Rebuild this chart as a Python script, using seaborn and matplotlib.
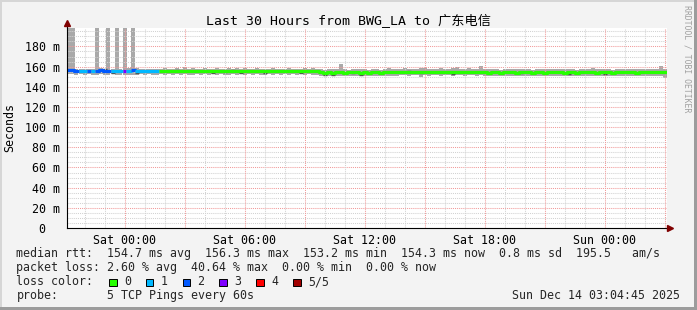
import numpy as np
import pandas as pd
import matplotlib
matplotlib.use("Agg")
import matplotlib.pyplot as plt
import seaborn as sns
from matplotlib.patches import Rectangle

sns.set_theme(style="white")
plt.rcParams["font.family"] = ["DejaVu Sans Mono", "Noto Sans CJK SC"]

# ---------------- data ----------------
start_hour = -2.921          # hours relative to Sat 00:00 (Fri 21:04:45)
bin_hours = 0.2              # consolidated step (12 min)

median_ms = [
    156.2, 156.3, 156.0, 155.6, 155.5, 156.0, 155.6, 156.1, 156.2, 156.0,
    156.1, 155.7, 155.8, 155.6, 155.9, 155.8, 156.2, 155.6, 155.5, 155.6,
    155.5, 155.6, 155.5,
    155.6, 155.4, 155.7, 155.5, 155.6, 155.3, 155.5, 155.7, 155.4, 155.5,
    155.6, 155.5, 155.3, 155.6, 155.5, 155.4, 155.6, 155.5, 155.7, 155.4,
    155.5, 155.6, 155.3, 155.5, 155.4, 155.6, 155.5, 155.3, 155.6, 155.5,
    155.4, 155.5, 155.7, 155.4, 155.5, 155.3, 155.6, 155.5, 155.4, 155.6,
    154.2, 154.0, 154.3, 154.1, 154.4, 154.2, 154.0, 154.3, 154.5, 154.2,
    154.1, 154.3, 154.0, 154.2, 154.4, 154.1, 154.3, 154.5, 154.2, 154.4,
    154.7, 154.9, 154.6, 154.8, 154.5, 154.9, 155.0, 154.7, 154.8, 154.6,
    154.9, 154.7, 154.8, 155.0, 154.6, 154.8, 154.7, 154.9, 154.6, 154.8, 154.7,
    154.3, 154.1, 154.4, 154.2, 154.0, 154.3, 154.5, 154.2, 154.1, 154.4,
    154.2, 154.3, 154.0, 154.2, 154.4, 154.1, 154.3, 154.2, 154.5, 154.3,
    154.1, 154.4, 154.2, 154.0, 154.3, 154.5, 154.2, 154.4, 154.1, 154.3,
    154.2, 154.4, 154.0, 154.3, 154.5, 154.2, 154.4, 154.3, 154.1, 154.4,
    154.2, 154.3, 154.5, 154.2, 154.4, 154.3,
]

smoke_hi_ms = [
    250, 250, 158.0, 157.5, 157.5, 158.0, 157.5, 250, 158.5, 158.0,
    250, 157.5, 250, 158.0, 250, 158.5, 250, 158.5, 158.0, 157.5,
    158.0, 157.5, 157.5,
    158.0, 158.5, 158.0, 158.0, 158.5, 158.0, 160.0, 158.0, 158.5, 158.0,
    158.0, 158.5, 158.0, 158.0, 158.5, 158.0, 158.0, 158.5, 158.0, 158.5,
    158.0, 158.5, 158.0, 158.0, 158.5, 158.0, 158.0, 158.0, 158.5, 158.0,
    158.0, 158.0, 158.5, 158.0, 158.0, 158.0, 158.5, 158.0, 158.5, 158.0,
    157.5, 157.0, 157.5, 157.5, 158.0, 162.5, 157.5, 157.0, 158.0, 157.5,
    157.5, 158.0, 157.0, 157.5, 157.5, 157.0, 157.5, 158.5, 157.5, 158.0,
    158.0, 158.5, 158.0, 158.0, 157.5, 158.5, 158.5, 158.0, 158.0, 158.0,
    158.5, 158.0, 158.0, 158.5, 160.0, 158.0, 158.0, 158.5, 158.0, 158.0, 160.5,
    157.5, 157.5, 158.0, 157.5, 157.0, 157.5, 158.0, 157.5, 157.5, 158.0,
    157.5, 157.5, 157.0, 157.5, 158.0, 157.5, 157.5, 157.5, 158.0, 157.5,
    157.5, 158.0, 157.5, 157.0, 157.5, 158.0, 157.5, 158.5, 157.5, 157.5,
    157.5, 158.0, 157.0, 157.5, 158.0, 157.5, 158.0, 157.5, 157.5, 158.0,
    157.5, 157.5, 158.0, 157.5, 160.5, 158.0,
]

smoke_lo_ms = [
    152.5, 152.5, 152.0, 152.5, 152.0, 152.5, 152.0, 152.0, 152.5, 152.0,
    152.0, 152.5, 152.0, 151.5, 152.0, 152.0, 151.5, 152.0, 152.5, 152.0,
    152.5, 152.0, 152.0,
    152.5, 152.0, 152.5, 152.0, 152.5, 152.0, 152.5, 152.0, 152.0, 152.5,
    152.0, 152.5, 152.0, 152.5, 152.0, 152.5, 152.0, 152.0, 152.5, 152.0,
    152.5, 152.0, 152.5, 152.0, 152.5, 152.0, 152.0, 152.5, 152.0, 152.5,
    152.0, 152.5, 152.0, 152.5, 152.0, 152.5, 152.0, 152.5, 152.0, 151.5,
    151.0, 150.5, 151.0, 151.0, 150.5, 151.0, 151.0, 150.5, 151.0, 151.0,
    150.5, 151.0, 151.0, 150.5, 151.0, 151.0, 150.5, 151.0, 151.0, 151.0,
    151.5, 151.5, 151.0, 151.5, 151.5, 149.5, 151.5, 151.0, 151.5, 151.5,
    151.0, 151.5, 151.5, 151.0, 151.5, 151.5, 151.0, 151.5, 151.5, 151.0, 151.5,
    151.0, 150.5, 151.0, 151.0, 150.5, 151.0, 151.0, 151.0, 150.5, 151.0,
    151.0, 150.5, 151.0, 151.0, 151.0, 150.5, 151.0, 151.0, 150.5, 151.0,
    151.0, 151.0, 150.5, 151.0, 151.0, 150.5, 151.0, 151.0, 151.0, 150.5,
    151.0, 151.0, 150.5, 151.0, 151.0, 151.0, 150.5, 151.0, 151.0, 150.5,
    151.0, 151.0, 150.5, 151.0, 151.0, 148.5,
]

loss_level = [2, 2, 2, 1, 1, 2, 1, 2, 2, 2, 2, 1, 1, 1, 3, 1, 2, 1, 1, 1, 1, 1, 1] + [0] * 127

# darker smoke layers (bin index, value in ms)
dark_bins = [9, 11, 17, 27, 36, 39, 41, 43, 49, 58, 62, 64, 66, 71, 73, 75, 85, 88, 96,
             105, 113, 125, 134, 143, 147]
dark_vals = [158.0, 154.0, 153.8, 156.4, 154.0, 154.7, 156.6, 154.0, 153.7, 154.0, 156.0,
             152.0, 151.7, 153.4, 152.0, 153.4, 155.4, 153.4, 152.7,
             153.4, 153.4, 152.7, 152.7, 154.7, 155.0]

loss_labels = ["0", "1", "2", "3", "4", "5/5"]
loss_colors = ["#26ff00", "#00b8ff", "#0059ff", "#7e00ff", "#ff0000", "#a10000"]

y_major = [0, 20, 40, 60, 80, 100, 120, 140, 160, 180]
y_labels = ["0  ", "20 m", "40 m", "60 m", "80 m", "100 m", "120 m", "140 m", "160 m", "180 m"]
x_major = [0, 6, 12, 18, 24]
x_labels = ["Sat 00:00", "Sat 06:00", "Sat 12:00", "Sat 18:00", "Sun 00:00"]

title = "Last 30 Hours from BWG_LA to 广东电信"
legend_lines = [
    "median rtt:  154.7 ms avg  156.3 ms max  153.2 ms min  154.3 ms now  0.8 ms sd  195.5   am/s",
    "packet loss: 2.60 % avg  40.64 % max  0.00 % min  0.00 % now",
]
probe_text = "5 TCP Pings every 60s"
stamp_text = "Sun Dec 14 03:04:45 2025"

# ---------------- figure ----------------
W, H = 697, 310
fig = plt.figure(figsize=(W / 100, H / 100), dpi=100)
fig.patch.set_facecolor("#f3f3f3")


def fx(x):
    return x / W


def fy(y):
    return 1 - y / H


ax = fig.add_axes([fx(66.5), 82 / H, 600 / W, 200 / H])
ax.set_facecolor("white")
x_end = start_hour + 30.0
ax.set_xlim(start_hour, x_end)
ax.set_ylim(0, 198.3)

n = len(median_ms)
edges = start_hour + bin_hours * np.arange(n + 1)
centers = edges[:-1] + bin_hours / 2
hi = np.array(smoke_hi_ms)
lo = np.array(smoke_lo_ms)

# smoke
ax.bar(centers, hi - lo, bottom=lo, width=bin_hours, color="#a9a9a9",
       linewidth=0, zorder=2)
ax.hlines([v for v in dark_vals], [edges[b] for b in dark_bins],
          [edges[b + 1] for b in dark_bins], color="#505050", lw=1.0, zorder=2.1)

# grid
grid_kw = dict(lw=0.75, linestyle=(0, (1, 1)), zorder=2.5)
for v in range(5, 200, 5):
    if v % 20:
        ax.axhline(v, color="#d2d2d2", **grid_kw)
for v in range(20, 200, 20):
    ax.axhline(v, color="#f19a9a", **grid_kw)
for h in range(int(np.ceil(start_hour)), int(np.floor(x_end)) + 1):
    ax.axvline(h, color="#f19a9a" if h % 3 == 0 else "#d2d2d2", **grid_kw)

# median line, coloured by loss
rows = []
run = 0
run_loss = {}
for k in range(n):
    if k > 0 and loss_level[k] != loss_level[k - 1]:
        rows.append((edges[k], median_ms[k], run))
        run += 1
    run_loss[run] = loss_level[k]
    rows.append((edges[k], median_ms[k], run))
    rows.append((edges[k + 1], median_ms[k], run))
df = pd.DataFrame(rows, columns=["t", "v", "run"])
pal = {r: loss_colors[l] for r, l in run_loss.items()}
sns.lineplot(data=df, x="t", y="v", hue="run", palette=pal, estimator=None,
             sort=False, legend=False, lw=2.3, ax=ax, zorder=3,
             solid_capstyle="butt")
ax.set_xlabel("")
ax.set_ylabel("")

# axes styling
for s in ["top", "right"]:
    ax.spines[s].set_visible(False)
for s in ["left", "bottom"]:
    ax.spines[s].set_color("black")
    ax.spines[s].set_linewidth(0.8)
    ax.spines[s].set_zorder(4)
ax.set_yticks(y_major)
ax.set_yticklabels(y_labels)
ax.set_xticks(x_major)
ax.set_xticklabels(x_labels)
ax.tick_params(axis="y", direction="out", length=2, width=0.7, pad=3.0,
               labelsize=8.4, colors="black")
ax.tick_params(axis="x", direction="out", length=2, width=0.7, pad=2.2,
               labelsize=8.4, colors="black")
ax.grid(False)

# axis arrows
ax.plot([start_hour, start_hour], [198.3, 202.5], color="black", lw=0.8,
        clip_on=False, zorder=4)
ax.plot([start_hour], [203.5], marker="^", ms=4.2, color="#800000", mec="#800000",
        clip_on=False, zorder=5)
ax.plot([x_end, x_end + 0.1], [0, 0], color="black", lw=0.8, clip_on=False, zorder=4)
ax.plot([x_end + 0.17], [0], marker=">", ms=4.2, color="#800000", mec="#800000",
        clip_on=False, zorder=5)

# texts
fig.text(0.5, fy(21), title, ha="center", va="center", fontsize=9.5, color="black")
fig.text(fx(10), fy(128), "Seconds", rotation=90, ha="center", va="center",
         fontsize=8.4, color="black")
fig.text(fx(687), fy(5), "RRDTOOL / TOBI OETIKER", rotation=-90, ha="center",
         va="top", fontsize=5.9, color="#a0a0a0")

fig.text(fx(16.5), fy(257.3), legend_lines[0], fontsize=8.4, va="baseline")
fig.text(fx(16.5), fy(271.2), legend_lines[1], fontsize=8.4, va="baseline")
fig.text(fx(16.5), fy(285.3), "loss color:", fontsize=8.4, va="baseline")
box_left = [109, 145.8, 182.6, 219.4, 256.2, 293.0]
for bl, lab, col in zip(box_left, loss_labels, loss_colors):
    fig.add_artist(Rectangle((fx(bl), fy(286)), 7.5 / W, 7.5 / H,
                             transform=fig.transFigure, facecolor=col,
                             edgecolor="black", lw=0.7))
    fig.text(fx(bl + 15), fy(285.3), lab, fontsize=8.4, va="baseline")
fig.text(fx(16.5), fy(299.2), "probe:", fontsize=8.4, va="baseline")
fig.text(fx(107), fy(299.2), probe_text, fontsize=8.4, va="baseline")
fig.text(fx(680), fy(299.2), stamp_text, fontsize=8.4, va="baseline", ha="right")

# bevel frame
fig.add_artist(Rectangle((0, fy(2)), 1, 2 / H, transform=fig.transFigure,
                         facecolor="#d6d6d6", lw=0))
fig.add_artist(Rectangle((0, 0), 2 / W, 1, transform=fig.transFigure,
                         facecolor="#d6d6d6", lw=0))
fig.add_artist(Rectangle((0, 0), 1, 3 / H, transform=fig.transFigure,
                         facecolor="#9c9c9c", lw=0))
fig.add_artist(Rectangle((fx(694), 0), 3 / W, 1, transform=fig.transFigure,
                         facecolor="#9c9c9c", lw=0))

fig.savefig("out.png", dpi=100, facecolor=fig.get_facecolor())
